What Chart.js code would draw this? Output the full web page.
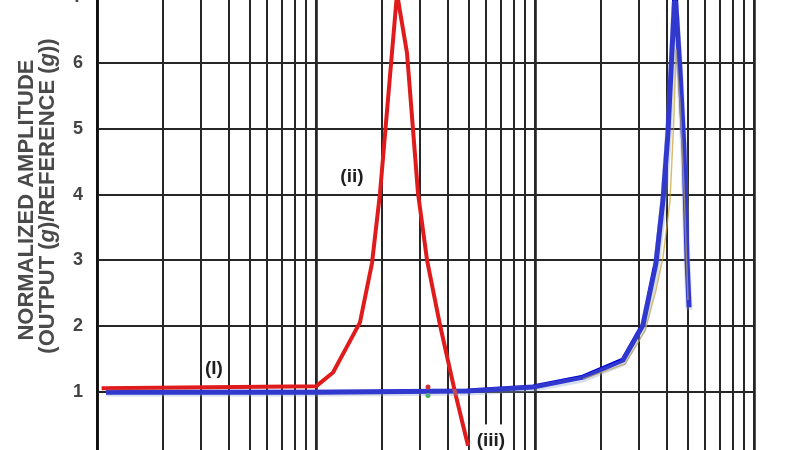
<!DOCTYPE html>
<html>
<head>
<meta charset="utf-8">
<script src="https://cdn.jsdelivr.net/npm/chart.js@4.4.1/dist/chart.umd.min.js"></script>
<style>
html,body{margin:0;padding:0;background:#fff;}
#wrap{position:relative;width:790px;height:450px;overflow:hidden;background:#fff;}
#box{position:absolute;left:0;top:-28px;width:790px;height:511px;}
</style>
</head>
<body>
<div id="wrap"><div id="box"><canvas id="chart"></canvas></div></div>
<script>
// curve (ii) - red resonance
const redFreq = [10.5, 100, 119.6, 158.8, 180.2, 196, 234.4, 260.3, 292.3, 321.2, 368.4, 431.3, 494.6];
const redAmp  = [1.06, 1.09, 1.30, 2.06, 2.96, 4.02, 7.05, 6.15, 4.02, 3.01, 2.02, 1.00, 0.19];

// curve (I) - blue and the traces lying under it
const blueFreq = [11.0, 100, 489.3, 979.5, 1656, 2523, 3112, 3568, 3842, 4048, 4358, 4593, 4790, 4947, 5053];
const blueAmp  = [1.00, 1.00, 1.02, 1.08, 1.23, 1.49, 2.02, 2.96, 3.92, 4.94, 7.10, 5.89, 4.68, 3.00, 2.29];
const haloAmp  = [0.99, 0.99, 1.00, 1.06, 1.20, 1.45, 1.97, 2.85, 3.80, 4.80, 6.90, 5.80, 4.60, 2.95, 2.25];
const goldFreq = [1656, 2576, 3178, 3568, 3842, 4134, 4313, 4404, 4593, 4790, 4996];
const goldAmp  = [1.20, 1.43, 1.93, 2.55, 3.05, 3.90, 5.20, 6.20, 5.40, 4.10, 2.40];

// stray marks near 320
const dotFreq = [324.6, 324.6];
const dotAmp  = [1.08, 0.95];
const dotColors = ["#d03030", "#40b060"];

const yTicks = [0, 1, 2, 3, 4, 5, 6, 7];
const decades = [10, 100, 1000, 10000];

const pts = (xs, ys) => xs.map((x, i) => ({x: x, y: ys[i]}));
const FONT = '"Liberation Sans", Arial, sans-serif';

const labelPlugin = {
    id: "labels",
    afterDatasetsDraw(chart) {
        const c = chart.ctx, xs = chart.scales.x, ys = chart.scales.y;
        c.save();
        // white box behind (iii)
        let bx = xs.getPixelForValue(629), by = ys.getPixelForValue(0.27);
        c.fillStyle = "#fff";
        c.fillRect(bx - 21, by - 16, 42, 40);
        c.fillStyle = "#1e1e1e";
        c.font = "bold 19px " + FONT;
        c.textAlign = "center"; c.textBaseline = "middle";
        c.fillText("(I)", xs.getPixelForValue(34.2), ys.getPixelForValue(1.35));
        c.fillText("(ii)", xs.getPixelForValue(145.9), ys.getPixelForValue(4.27));
        c.fillText("(iii)", bx, by);
        c.restore();
    },
    afterDraw(chart) {
        const c = chart.ctx;
        const line = (x, cy, segs) => {
            c.save();
            c.translate(x, cy);
            c.rotate(-Math.PI / 2);
            c.fillStyle = "#4a4a4a";
            c.textBaseline = "alphabetic";
            let w = 0;
            segs.forEach(s => { c.font = s[1] + " 22px " + FONT; w += c.measureText(s[0]).width; });
            let pos = -w / 2;
            segs.forEach(s => {
                c.font = s[1] + " 22px " + FONT;
                c.fillText(s[0], pos, 0);
                pos += c.measureText(s[0]).width;
            });
            c.restore();
        };
        // canvas is shifted 28px up inside the page
        line(33, 228, [["NORMALIZED AMPLITUDE", "bold"]]);
        line(54, 224, [["(OUTPUT (", "bold"], ["g", "italic bold"], [")/REFERENCE (", "bold"], ["g", "italic bold"], ["))", "bold"]]);
    }
};

let chart = new Chart(document.getElementById("chart").getContext("2d"), {
    type: "line",
    data: {
        datasets: [
            {label: "halo", data: pts(blueFreq, haloAmp), borderColor: "rgba(140,160,200,0.35)", borderWidth: 7},
            {label: "gold", data: pts(goldFreq, goldAmp), borderColor: "rgba(200,160,50,0.7)", borderWidth: 1.5},
            {label: "(ii)", data: pts(redFreq, redAmp), borderColor: "#e01b1b", borderWidth: 4},
            {label: "marks", data: pts(dotFreq, dotAmp), showLine: false, pointRadius: 2.5,
                pointBackgroundColor: dotColors, pointBorderWidth: 0},
            {label: "(I)", data: pts(blueFreq, blueAmp), borderColor: "#0000d2", borderWidth: 5}
        ]
    },
    options: {
        animation: false, responsive: true, maintainAspectRatio: false,
        layout: {padding: {top: 17, right: 36, bottom: 22, left: 0}},
        elements: {line: {tension: 0, borderJoinStyle: "round", borderCapStyle: "butt"}, point: {radius: 0}},
        plugins: {legend: {display: false}, tooltip: {enabled: false}},
        scales: {
            x: {
                type: "logarithmic", min: 10, max: 10000,
                ticks: {display: false},
                afterBuildTicks: s => {
                    let t = [];
                    decades.forEach(d => { for (let k = 1; k <= 9; k++) if (d * k <= 10000) t.push({value: d * k}); });
                    s.ticks = t;
                },
                afterFit: s => { s.height = 0; },
                grid: {color: "#262626", drawTicks: false,
                    lineWidth: ctx => decades.includes(ctx.tick && ctx.tick.value) ? 2.8 : 2},
                border: {display: false}
            },
            y: {
                min: 0, max: 7,
                afterBuildTicks: s => { s.ticks = yTicks.map(v => ({value: v})); },
                afterFit: s => { s.width = 97; },
                ticks: {padding: 14, color: "#444", font: {family: FONT, size: 18, weight: "bold"},
                    callback: v => v === 0 ? "" : String(v)},
                grid: {color: "#262626", lineWidth: 2, drawTicks: false},
                border: {display: true, color: "#111", width: 2.8}
            }
        }
    },
    plugins: [labelPlugin]
});
</script>
</body>
</html>
